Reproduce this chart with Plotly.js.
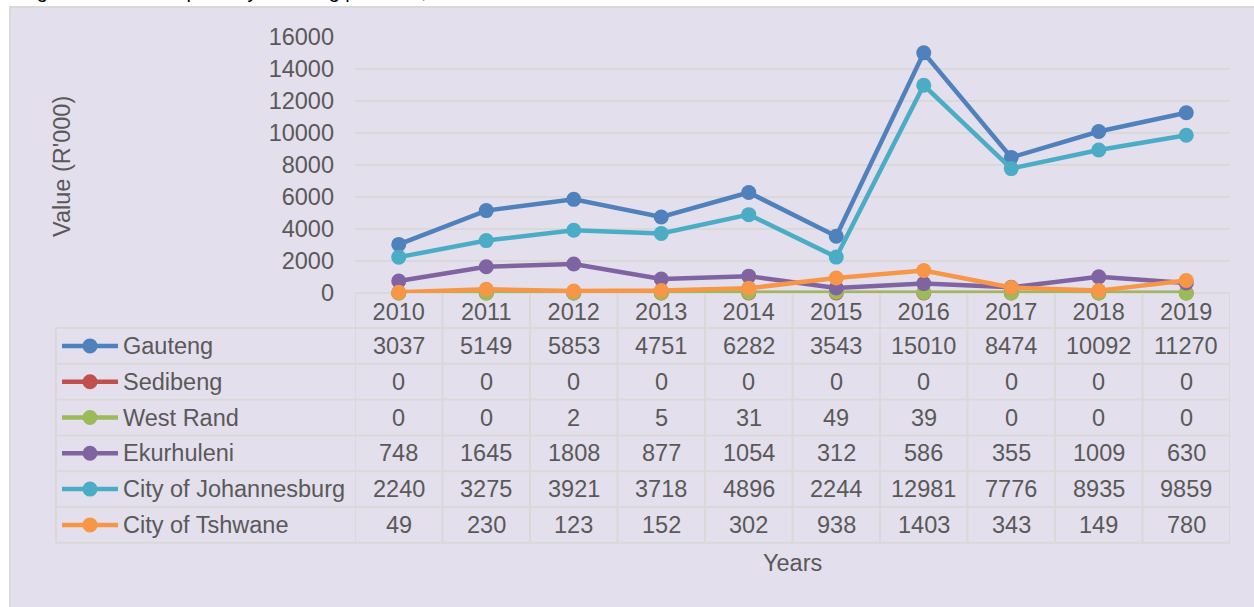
<!DOCTYPE html>
<html>
<head>
<meta charset="utf-8">
<script src="https://cdn.plot.ly/plotly-3.0.1.min.js"></script>
<style>
html,body{margin:0;padding:0;background:#fff;}
#chart{width:1254px;height:607px;}
</style>
</head>
<body>
<div id="chart"></div>
<script>
// ---- data ----
const years = ['2010','2011','2012','2013','2014','2015','2016','2017','2018','2019'];
const gauteng      = [3037, 5149, 5853, 4751, 6282, 3543, 15010, 8474, 10092, 11270];
const sedibeng     = [0, 0, 0, 0, 0, 0, 0, 0, 0, 0];
const westRand     = [0, 0, 2, 5, 31, 49, 39, 0, 0, 0];
const ekurhuleni   = [748, 1645, 1808, 877, 1054, 312, 586, 355, 1009, 630];
const johannesburg = [2240, 3275, 3921, 3718, 4896, 2244, 12981, 7776, 8935, 9859];
const tshwane      = [49, 230, 123, 152, 302, 938, 1403, 343, 149, 780];
const seriesNames  = ['Gauteng', 'Sedibeng', 'West Rand', 'Ekurhuleni', 'City of Johannesburg', 'City of Tshwane'];
const yTickVals    = [0, 2000, 4000, 6000, 8000, 10000, 12000, 14000, 16000];
const yTitle = "Value (R'000)";
const xTitle = 'Years';
const figTitle = 'Figure: Value of exports by Gauteng province, 2010–2019';

const seriesValues = [gauteng, sedibeng, westRand, ekurhuleni, johannesburg, tshwane];
const colors = ['#4f81bd', '#c0504d', '#9bbb59', '#8064a2', '#4bacc6', '#f79646'];

// ---- geometry helpers (pixel -> paper) ----
const W = 1254, H = 607;
const PL = 355, PR = 1230, PT = 37, PB = 293;
const X = px => (px - PL) / (PR - PL);
const Y = py => (PB - py) / (PB - PT);

const FONT = 'Liberation Sans, Arial, sans-serif';
const GREY = '#595959';
const GRID = '#d9d9d9';

const traces = seriesNames.map((name, i) => ({
  type: 'scatter',
  mode: 'lines+markers',
  name: name,
  x: years,
  y: seriesValues[i],
  line: {color: colors[i], width: 4.5},
  marker: {color: colors[i], size: 15},
  cliponaxis: false,
  showlegend: false
}));

const shapes = [];
const annotations = [];

// background box
shapes.push({type: 'rect', xref: 'paper', yref: 'paper', layer: 'below',
  x0: X(10), x1: X(W + 20), y0: Y(7), y1: Y(H + 20),
  fillcolor: '#e4dfec', line: {color: GRID, width: 2}});

// table geometry
const rowH = 35.8;
const headerBottom = 328;
const tableBottom = headerBottom + rowH * seriesNames.length;
const legendLeft = 56;

// horizontal table lines
shapes.push({type: 'line', xref: 'paper', yref: 'paper', layer: 'below',
  x0: X(PL), x1: X(PR), y0: Y(PB), y1: Y(PB), line: {color: GRID, width: 2}});
for (let r = 0; r <= seriesNames.length; r++) {
  const py = headerBottom + r * rowH;
  shapes.push({type: 'line', xref: 'paper', yref: 'paper', layer: 'below',
    x0: X(legendLeft), x1: X(PR), y0: Y(py), y1: Y(py), line: {color: GRID, width: 2}});
}
// vertical table lines
shapes.push({type: 'line', xref: 'paper', yref: 'paper', layer: 'below',
  x0: X(legendLeft), x1: X(legendLeft), y0: Y(headerBottom), y1: Y(tableBottom), line: {color: GRID, width: 2}});
for (let c = 0; c <= years.length; c++) {
  shapes.push({type: 'line', xref: 'x', yref: 'paper', layer: 'below',
    x0: c - 0.5, x1: c - 0.5, y0: Y(PB), y1: Y(tableBottom), line: {color: GRID, width: 2}});
}

// table rows
seriesNames.forEach((name, r) => {
  const cy = headerBottom + rowH * (r + 0.5);
  // legend key line
  shapes.push({type: 'line', xref: 'paper', yref: 'paper',
    x0: X(62), x1: X(118), y0: Y(cy), y1: Y(cy), line: {color: colors[r], width: 4.5}});
  shapes.push({type: 'circle', xref: 'paper', yref: 'paper',
    x0: X(82.5), x1: X(97.5), y0: Y(cy + 7.5), y1: Y(cy - 7.5),
    fillcolor: colors[r], line: {color: colors[r], width: 0}});
  annotations.push({xref: 'paper', yref: 'paper', x: X(121), y: Y(cy),
    xanchor: 'left', yanchor: 'middle', showarrow: false, text: name,
    font: {family: FONT, size: 23.5, color: GREY}});
  seriesValues[r].forEach((v, c) => {
    annotations.push({xref: 'x', yref: 'paper', x: c, y: Y(cy),
      xanchor: 'center', yanchor: 'middle', showarrow: false, text: String(v),
      font: {family: FONT, size: 23.5, color: GREY}});
  });
});

// axis titles
annotations.push({xref: 'paper', yref: 'paper', x: X(792), y: Y(563),
  xanchor: 'center', yanchor: 'middle', showarrow: false, text: xTitle,
  font: {family: FONT, size: 23.5, color: GREY}});
annotations.push({xref: 'paper', yref: 'paper', x: X(62), y: Y(167),
  xanchor: 'center', yanchor: 'middle', showarrow: false, text: yTitle, textangle: -90,
  font: {family: FONT, size: 23.5, color: GREY}});
// clipped figure caption at the very top (only its lower edge is visible, as in the reference)
annotations.push({xref: 'paper', yref: 'paper', x: X(18), y: Y(4),
  xanchor: 'left', yanchor: 'bottom', showarrow: false, text: figTitle,
  font: {family: FONT, size: 20, color: '#000'}});

const layout = {
  width: W, height: H,
  margin: {l: PL, r: W - PR, t: PT, b: H - PB, pad: 0},
  paper_bgcolor: '#ffffff',
  plot_bgcolor: 'rgba(0,0,0,0)',
  showlegend: false,
  font: {family: FONT, color: GREY},
  xaxis: {
    type: 'category', range: [-0.5, years.length - 0.5],
    showgrid: false, zeroline: false, showline: false, ticks: '',
    tickfont: {family: FONT, size: 23.5, color: GREY},
    ticklabelstandoff: 2, fixedrange: true
  },
  yaxis: {
    range: [0, 16000], tickvals: yTickVals, ticktext: yTickVals.map(String),
    showgrid: true, gridcolor: GRID, gridwidth: 2,
    zeroline: false, showline: false, ticks: '',
    tickfont: {family: FONT, size: 23.5, color: GREY},
    ticklabelstandoff: 20, fixedrange: true
  },
  shapes: shapes,
  annotations: annotations
};

Plotly.newPlot('chart', traces, layout, {displayModeBar: false, staticPlot: true});
</script>
</body>
</html>
